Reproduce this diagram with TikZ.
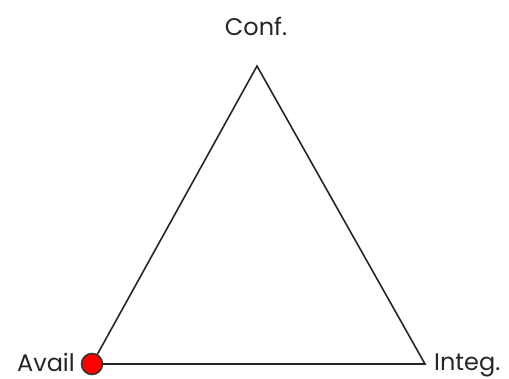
\documentclass[tikz,border=0pt]{standalone}
\usepackage{fontspec}
\setmainfont{Poppins}
\begin{document}
\begin{tikzpicture}[x=1pt,y=1pt,
  lbl/.style={font=\fontsize{24}{28}\selectfont, text=black!85, inner sep=0pt},
  edge/.style={draw=black!85, line width=1.6pt, line join=miter},
  dot/.style={circle, fill=red, draw=black!80, line width=1.5pt, minimum size=21pt, inner sep=0pt}]
\useasboundingbox (0,0) rectangle (509,379);
\coordinate (c) at (257,313);
\coordinate (a) at (92,15);
\coordinate (i) at (425,15);
\draw[edge] (c) -- (a) -- (i) -- cycle;
\node[dot] (ad) at (a) {};
\node[lbl, anchor=base] (cl) at (256,343) {Conf.};
\node[lbl, anchor=base east] (al) at (75,7) {Avail};
\node[lbl, anchor=base west] (il) at (434,8) {Integ.};
\end{tikzpicture}
\end{document}
